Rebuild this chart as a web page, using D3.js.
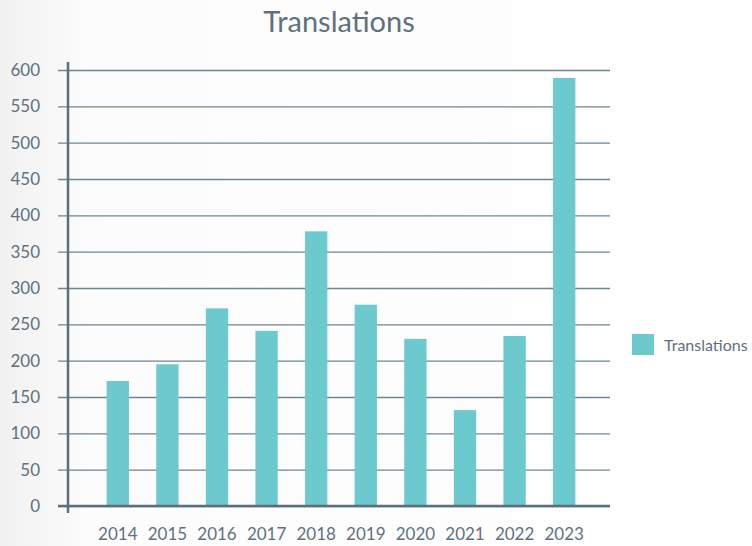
<!DOCTYPE html>
<html>
<head>
<meta charset="utf-8">
<script src="https://cdn.jsdelivr.net/npm/d3@7"></script>
<style>
  html, body { margin: 0; padding: 0; background: #fff; }
  svg { display: block; font-family: Lato, "Open Sans", sans-serif; }
</style>
</head>
<body>
<div id="chart"></div>
<script>
const years = ["2014", "2015", "2016", "2017", "2018", "2019", "2020", "2021", "2022", "2023"];
const translations = [172, 195, 272, 241, 378, 277, 230, 132, 234, 589];
const yTicks = [0, 50, 100, 150, 200, 250, 300, 350, 400, 450, 500, 550, 600];

const width = 752, height = 546;
const fontFamily = "Lato, 'Open Sans', sans-serif";
const textColor = "#5d7181";
const axisColor = "#5b6f7e";
const gridColor = "#71848f";
const barColor = "#6ccacf";

const svg = d3.select("#chart").append("svg")
    .attr("width", width)
    .attr("height", height);

// soft gray fade on the left edge
const grad = svg.append("defs").append("linearGradient")
    .attr("id", "bg").attr("x1", 0).attr("x2", 1).attr("y1", 0).attr("y2", 0);
grad.append("stop").attr("offset", "0").attr("stop-color", "#f1f1f1");
grad.append("stop").attr("offset", "0.12").attr("stop-color", "#fcfcfc");
grad.append("stop").attr("offset", "1").attr("stop-color", "#ffffff");
svg.append("rect").attr("width", width).attr("height", height).attr("fill", "url(#bg)");

const x = d3.scaleBand()
    .domain(years)
    .range([93, 589])
    .paddingInner(0.55)
    .paddingOuter(0.275);

const y = d3.scaleLinear()
    .domain([0, 600])
    .range([506, 70]);

// title
svg.append("text")
    .attr("x", 339).attr("y", 32)
    .attr("text-anchor", "middle")
    .attr("fill", textColor)
    .style("font-size", "29px")
    .text("Translations");

// gridlines + y labels
const yAxis = d3.axisLeft(y)
    .tickValues(yTicks)
    .tickSize(-552)
    .tickPadding(18);

const gy = svg.append("g")
    .attr("transform", "translate(58,0)")
    .call(yAxis)
    .attr("font-family", fontFamily)
    .attr("font-size", 17);
gy.select(".domain").remove();
gy.selectAll(".tick line")
    .attr("stroke", gridColor)
    .attr("stroke-width", 1.3);
gy.selectAll(".tick text")
    .attr("fill", textColor);

// bars
svg.append("g").selectAll("rect")
    .data(translations)
    .join("rect")
    .attr("x", (d, i) => x(years[i]))
    .attr("y", d => y(d))
    .attr("width", x.bandwidth())
    .attr("height", d => y(0) - y(d))
    .attr("fill", barColor);

// axis lines
svg.append("line")
    .attr("x1", 68).attr("x2", 68)
    .attr("y1", 62).attr("y2", 513)
    .attr("stroke", axisColor).attr("stroke-width", 2.5);
svg.append("line")
    .attr("x1", 58).attr("x2", 610)
    .attr("y1", y(0)).attr("y2", y(0))
    .attr("stroke", axisColor).attr("stroke-width", 2.5);

// x labels
const gx = svg.append("g")
    .attr("transform", `translate(0,${y(0)})`)
    .call(d3.axisBottom(x).tickSize(0).tickPadding(22))
    .attr("font-family", fontFamily)
    .attr("font-size", 17);
gx.select(".domain").remove();
gx.selectAll(".tick text")
    .attr("fill", textColor);

// legend
const legend = svg.append("g").attr("transform", "translate(632,334)");
legend.append("rect")
    .attr("width", 22).attr("height", 21)
    .attr("fill", barColor);
legend.append("text")
    .attr("x", 32).attr("y", 11)
    .attr("dy", "0.35em")
    .attr("fill", textColor)
    .style("font-size", "16px")
    .text("Translations");
</script>
</body>
</html>
